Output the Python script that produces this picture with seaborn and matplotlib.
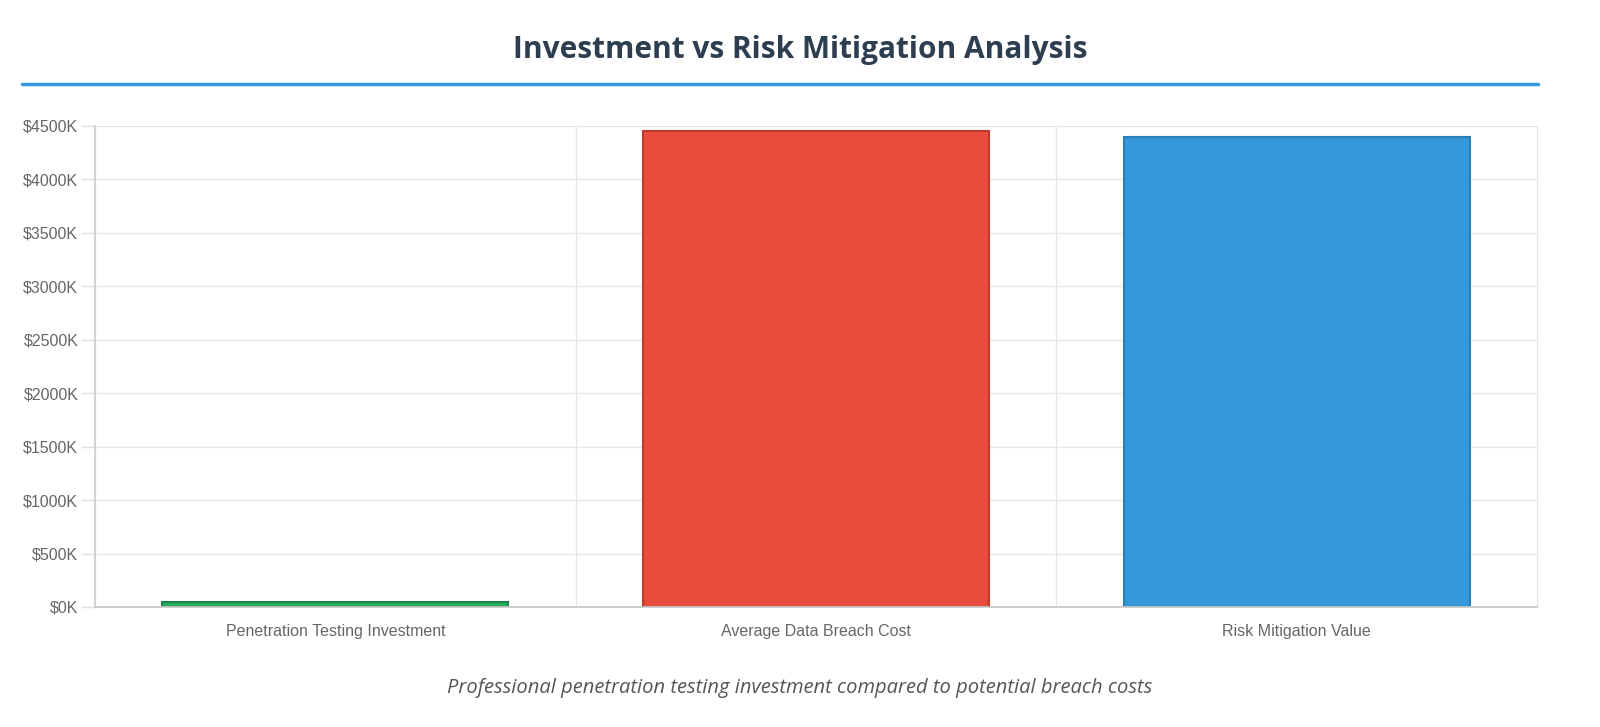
import matplotlib
matplotlib.use("Agg")
from matplotlib import pyplot as plt
from matplotlib.lines import Line2D
from matplotlib.ticker import FixedLocator, FuncFormatter
import seaborn as sns
import pandas as pd

# data (thousands of dollars)
categories = ["Penetration Testing Investment", "Average Data Breach Cost", "Risk Mitigation Value"]
values_k = [50, 4450, 4400]
fill_colors = ["#27ae60", "#e74c3c", "#3498db"]
edge_colors = ["#1e8449", "#c0392b", "#2980b9"]
y_ticks = list(range(0, 5000, 500))

title = "Investment vs Risk Mitigation Analysis"
subtitle = "Professional penetration testing investment compared to potential breach costs"

sns.set_theme(style="white")
plt.rcParams["font.family"] = ["Liberation Sans", "DejaVu Sans"]

df = pd.DataFrame({"category": categories, "value": values_k})

fig = plt.figure(figsize=(16, 7.27), dpi=100)
ax = fig.add_axes([95 / 1600, 1 - 607 / 727, (1537 - 95) / 1600, (607 - 126) / 727])

sns.barplot(data=df, x="category", y="value", hue="category", palette=fill_colors,
            width=0.72, legend=False, ax=ax, saturation=1)
for patch, ec in zip(ax.patches, edge_colors):
    patch.set_edgecolor(ec)
    patch.set_linewidth(1.5)

ax.set_xlim(-0.5, len(categories) - 0.5)
ax.set_ylim(0, 4500)
ax.set_yticks(y_ticks)
ax.yaxis.set_major_formatter(FuncFormatter(lambda v, _: f"${int(v)}K"))
ax.set_xlabel("")
ax.set_ylabel("")

# grid lines at category boundaries, ticks there too
ax.xaxis.set_minor_locator(FixedLocator([i - 0.5 for i in range(len(categories) + 1)]))
ax.grid(True, axis="y", color="#e6e6e6", linewidth=1)
ax.grid(True, axis="x", which="minor", color="#e6e6e6", linewidth=1, clip_on=False)
ax.set_axisbelow(True)
ax.tick_params(axis="x", which="major", length=0, pad=12, labelsize=11.5, labelcolor="#666666")
ax.tick_params(axis="x", which="minor", length=10, color="#e0e0e0", width=1, direction="out")
ax.tick_params(axis="y", length=10, color="#e0e0e0", width=1, pad=2, labelsize=11.5,
               labelcolor="#666666", left=True)

for side in ["top", "right"]:
    ax.spines[side].set_visible(False)
ax.spines["left"].set_color("#d0d0d0")
ax.spines["bottom"].set_color("#c8c8c8")

fig.text(0.5, 1 - 50 / 727, title, ha="center", va="center", fontsize=21.5,
         fontweight="bold", color="#2c3e50", family=["Open Sans", "DejaVu Sans"])
fig.add_artist(Line2D([22 / 1600, 1538 / 1600], [1 - 84 / 727, 1 - 84 / 727],
                      color="#3498db", linewidth=2.5, transform=fig.transFigure))
fig.text(0.5, 1 - 688 / 727, subtitle, ha="center", va="center", fontsize=14.5,
         style="italic", color="#555555", family=["Open Sans", "DejaVu Sans"])

fig.savefig("out.png", dpi=100, facecolor="white")
